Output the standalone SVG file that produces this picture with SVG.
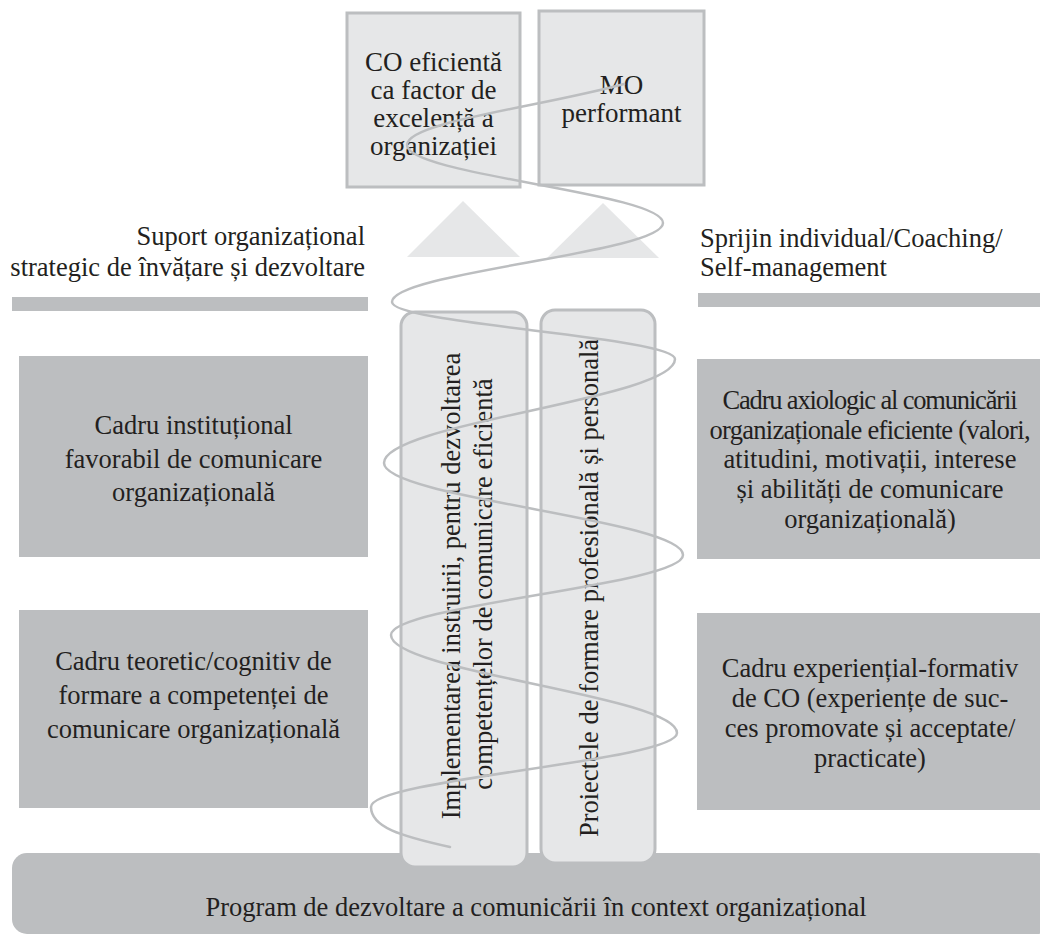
<svg xmlns="http://www.w3.org/2000/svg" width="1040" height="935" viewBox="0 0 1040 935">
<style>
.t{font-family:"Liberation Serif","Times New Roman",serif;fill:#231f20;font-size:26.5px}
.c{text-anchor:middle}
.light{fill:#e6e7e8;stroke:#bcbec0;stroke-width:3}
.dark{fill:#bcbec0}
.tri{fill:#e6e7e8}
.spiral{fill:none;stroke:#bcbec0;stroke-width:2.5;stroke-linecap:round}
</style>
<rect width="1040" height="935" fill="#ffffff"/>

<g id="bottom-bar">
<rect class="dark" x="12" y="853" width="1040" height="81" rx="15"/>
<text class="t c" x="536" y="916">Program de dezvoltare a comunicării în context organizațional</text>
</g>

<g id="top-box-co">
<rect class="light" x="347" y="13" width="173" height="174"/>
<text class="t c" x="433.5" y="71" style="font-size:27px">CO eficientă</text>
<text class="t c" x="433.5" y="99" style="font-size:27px">ca factor de</text>
<text class="t c" x="433.5" y="127" style="font-size:27px">excelență a</text>
<text class="t c" x="433.5" y="155" style="font-size:27px">organizației</text>
</g>

<g id="top-box-mo">
<rect class="light" x="539" y="11" width="165" height="174"/>
<text class="t c" x="621.5" y="94" style="font-size:27px">MO</text>
<text class="t c" x="621.5" y="122" style="font-size:27px">performant</text>
</g>

<g id="triangles">
<polygon class="tri" points="407,257 463,201 520,257"/>
<polygon class="tri" points="547,258 603,203 659,258"/>
</g>

<g id="left-label">
<text class="t" x="365" y="245" text-anchor="end">Suport organizațional</text>
<text class="t" x="365" y="276" text-anchor="end">strategic de învățare și dezvoltare</text>
<rect class="dark" x="12" y="297" width="356" height="14"/>
</g>

<g id="right-label">
<text class="t" x="700" y="247">Sprijin individual/Coaching/</text>
<text class="t" x="700" y="276">Self-management</text>
<rect class="dark" x="698" y="293" width="342" height="14"/>
</g>

<g id="left-box-1">
<rect class="dark" x="19" y="356" width="349" height="201"/>
<text class="t c" x="193.5" y="434">Cadru instituțional</text>
<text class="t c" x="193.5" y="468">favorabil de comunicare</text>
<text class="t c" x="193.5" y="501">organizațională</text>
</g>

<g id="left-box-2">
<rect class="dark" x="19" y="610" width="349" height="198"/>
<text class="t c" x="193.5" y="670">Cadru teoretic/cognitiv de</text>
<text class="t c" x="193.5" y="704">formare a competenței de</text>
<text class="t c" x="193.5" y="738">comunicare organizațională</text>
</g>

<g id="right-box-1">
<rect class="dark" x="697" y="359" width="345" height="200"/>
<text class="t c" x="870" y="409" textLength="295" lengthAdjust="spacing">Cadru axiologic al comunicării</text>
<text class="t c" x="870" y="439" textLength="321" lengthAdjust="spacing">organizaționale eficiente (valori,</text>
<text class="t c" x="870" y="468">atitudini, motivații, interese</text>
<text class="t c" x="870" y="498">și abilități de comunicare</text>
<text class="t c" x="870" y="528">organizațională)</text>
</g>

<g id="right-box-2">
<rect class="dark" x="697" y="613" width="345" height="197"/>
<text class="t c" x="870" y="677">Cadru experiențial-formativ</text>
<text class="t c" x="870" y="707">de CO (experiențe de suc-</text>
<text class="t c" x="870" y="737">ces promovate și acceptate/</text>
<text class="t c" x="870" y="767">practicate)</text>
</g>

<g id="column-1">
<rect class="light" x="401" y="312" width="126" height="555" rx="14"/>
<text class="t c" transform="translate(460,586) rotate(-90)">Implementarea instruirii, pentru dezvoltarea</text>
<text class="t c" transform="translate(492,584) rotate(-90)">competențelor de comunicare eficientă</text>
</g>

<g id="column-2">
<rect class="light" x="541" y="310" width="114" height="553" rx="14"/>
<text class="t c" transform="translate(598,588) rotate(-90)">Proiectele de formare profesională și personală</text>
</g>

<g id="connectors">
<path class="spiral" d="M 624 84 C 540 107, 407 122, 407 145 C 407 175, 663 193, 663 223 C 663 253, 392 272, 392 302 C 392 324, 675 337, 675 359 C 675 399, 384 423, 384 463 C 384 498, 683 520, 683 555 C 683 585, 391 605, 391 635 C 391 672, 677 696, 677 733 C 677 761, 371 779, 371 807 C 371 827, 400 836, 450 847"/>
</g>
</svg>
